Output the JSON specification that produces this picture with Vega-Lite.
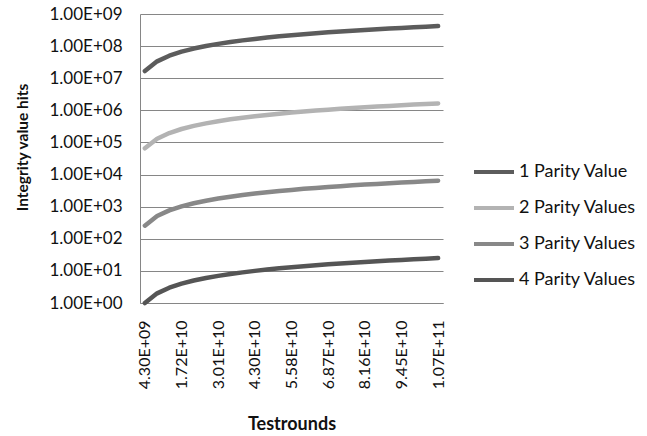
{
  "$schema": "https://vega.github.io/schema/vega-lite/v6.json",
  "width": 303,
  "height": 289,
  "autosize": "none",
  "padding": {"left": 140, "top": 14, "right": 204, "bottom": 133},
  "background": "white",
  "config": {
    "view": {"stroke": null},
    "font": "Lato",
    "axis": {"labelFont": "Lato", "titleFont": "Lato", "labelColor": "#111111", "titleColor": "#111111"}
  },
  "data": {
    "values": [
      {"series": "1 Parity Value", "testrounds": "4.30E+09", "hits": 16777216},
      {"series": "1 Parity Value", "testrounds": "8.59E+09", "hits": 33554432},
      {"series": "1 Parity Value", "testrounds": "1.29E+10", "hits": 50331648},
      {"series": "1 Parity Value", "testrounds": "1.72E+10", "hits": 67108864},
      {"series": "1 Parity Value", "testrounds": "2.15E+10", "hits": 83886080},
      {"series": "1 Parity Value", "testrounds": "2.58E+10", "hits": 100663296},
      {"series": "1 Parity Value", "testrounds": "3.01E+10", "hits": 117440512},
      {"series": "1 Parity Value", "testrounds": "3.44E+10", "hits": 134217728},
      {"series": "1 Parity Value", "testrounds": "3.87E+10", "hits": 150994944},
      {"series": "1 Parity Value", "testrounds": "4.30E+10", "hits": 167772160},
      {"series": "1 Parity Value", "testrounds": "4.73E+10", "hits": 184549376},
      {"series": "1 Parity Value", "testrounds": "5.15E+10", "hits": 201326592},
      {"series": "1 Parity Value", "testrounds": "5.58E+10", "hits": 218103808},
      {"series": "1 Parity Value", "testrounds": "6.01E+10", "hits": 234881024},
      {"series": "1 Parity Value", "testrounds": "6.44E+10", "hits": 251658240},
      {"series": "1 Parity Value", "testrounds": "6.87E+10", "hits": 268435456},
      {"series": "1 Parity Value", "testrounds": "7.30E+10", "hits": 285212672},
      {"series": "1 Parity Value", "testrounds": "7.73E+10", "hits": 301989888},
      {"series": "1 Parity Value", "testrounds": "8.16E+10", "hits": 318767104},
      {"series": "1 Parity Value", "testrounds": "8.59E+10", "hits": 335544320},
      {"series": "1 Parity Value", "testrounds": "9.02E+10", "hits": 352321536},
      {"series": "1 Parity Value", "testrounds": "9.45E+10", "hits": 369098752},
      {"series": "1 Parity Value", "testrounds": "9.88E+10", "hits": 385875968},
      {"series": "1 Parity Value", "testrounds": "1.03E+11", "hits": 402653184},
      {"series": "1 Parity Value", "testrounds": "1.07E+11", "hits": 419430400},
      {"series": "2 Parity Values", "testrounds": "4.30E+09", "hits": 65536},
      {"series": "2 Parity Values", "testrounds": "8.59E+09", "hits": 131072},
      {"series": "2 Parity Values", "testrounds": "1.29E+10", "hits": 196608},
      {"series": "2 Parity Values", "testrounds": "1.72E+10", "hits": 262144},
      {"series": "2 Parity Values", "testrounds": "2.15E+10", "hits": 327680},
      {"series": "2 Parity Values", "testrounds": "2.58E+10", "hits": 393216},
      {"series": "2 Parity Values", "testrounds": "3.01E+10", "hits": 458752},
      {"series": "2 Parity Values", "testrounds": "3.44E+10", "hits": 524288},
      {"series": "2 Parity Values", "testrounds": "3.87E+10", "hits": 589824},
      {"series": "2 Parity Values", "testrounds": "4.30E+10", "hits": 655360},
      {"series": "2 Parity Values", "testrounds": "4.73E+10", "hits": 720896},
      {"series": "2 Parity Values", "testrounds": "5.15E+10", "hits": 786432},
      {"series": "2 Parity Values", "testrounds": "5.58E+10", "hits": 851968},
      {"series": "2 Parity Values", "testrounds": "6.01E+10", "hits": 917504},
      {"series": "2 Parity Values", "testrounds": "6.44E+10", "hits": 983040},
      {"series": "2 Parity Values", "testrounds": "6.87E+10", "hits": 1048576},
      {"series": "2 Parity Values", "testrounds": "7.30E+10", "hits": 1114112},
      {"series": "2 Parity Values", "testrounds": "7.73E+10", "hits": 1179648},
      {"series": "2 Parity Values", "testrounds": "8.16E+10", "hits": 1245184},
      {"series": "2 Parity Values", "testrounds": "8.59E+10", "hits": 1310720},
      {"series": "2 Parity Values", "testrounds": "9.02E+10", "hits": 1376256},
      {"series": "2 Parity Values", "testrounds": "9.45E+10", "hits": 1441792},
      {"series": "2 Parity Values", "testrounds": "9.88E+10", "hits": 1507328},
      {"series": "2 Parity Values", "testrounds": "1.03E+11", "hits": 1572864},
      {"series": "2 Parity Values", "testrounds": "1.07E+11", "hits": 1638400},
      {"series": "3 Parity Values", "testrounds": "4.30E+09", "hits": 256},
      {"series": "3 Parity Values", "testrounds": "8.59E+09", "hits": 512},
      {"series": "3 Parity Values", "testrounds": "1.29E+10", "hits": 768},
      {"series": "3 Parity Values", "testrounds": "1.72E+10", "hits": 1024},
      {"series": "3 Parity Values", "testrounds": "2.15E+10", "hits": 1280},
      {"series": "3 Parity Values", "testrounds": "2.58E+10", "hits": 1536},
      {"series": "3 Parity Values", "testrounds": "3.01E+10", "hits": 1792},
      {"series": "3 Parity Values", "testrounds": "3.44E+10", "hits": 2048},
      {"series": "3 Parity Values", "testrounds": "3.87E+10", "hits": 2304},
      {"series": "3 Parity Values", "testrounds": "4.30E+10", "hits": 2560},
      {"series": "3 Parity Values", "testrounds": "4.73E+10", "hits": 2816},
      {"series": "3 Parity Values", "testrounds": "5.15E+10", "hits": 3072},
      {"series": "3 Parity Values", "testrounds": "5.58E+10", "hits": 3328},
      {"series": "3 Parity Values", "testrounds": "6.01E+10", "hits": 3584},
      {"series": "3 Parity Values", "testrounds": "6.44E+10", "hits": 3840},
      {"series": "3 Parity Values", "testrounds": "6.87E+10", "hits": 4096},
      {"series": "3 Parity Values", "testrounds": "7.30E+10", "hits": 4352},
      {"series": "3 Parity Values", "testrounds": "7.73E+10", "hits": 4608},
      {"series": "3 Parity Values", "testrounds": "8.16E+10", "hits": 4864},
      {"series": "3 Parity Values", "testrounds": "8.59E+10", "hits": 5120},
      {"series": "3 Parity Values", "testrounds": "9.02E+10", "hits": 5376},
      {"series": "3 Parity Values", "testrounds": "9.45E+10", "hits": 5632},
      {"series": "3 Parity Values", "testrounds": "9.88E+10", "hits": 5888},
      {"series": "3 Parity Values", "testrounds": "1.03E+11", "hits": 6144},
      {"series": "3 Parity Values", "testrounds": "1.07E+11", "hits": 6400},
      {"series": "4 Parity Values", "testrounds": "4.30E+09", "hits": 1},
      {"series": "4 Parity Values", "testrounds": "8.59E+09", "hits": 2},
      {"series": "4 Parity Values", "testrounds": "1.29E+10", "hits": 3},
      {"series": "4 Parity Values", "testrounds": "1.72E+10", "hits": 4},
      {"series": "4 Parity Values", "testrounds": "2.15E+10", "hits": 5},
      {"series": "4 Parity Values", "testrounds": "2.58E+10", "hits": 6},
      {"series": "4 Parity Values", "testrounds": "3.01E+10", "hits": 7},
      {"series": "4 Parity Values", "testrounds": "3.44E+10", "hits": 8},
      {"series": "4 Parity Values", "testrounds": "3.87E+10", "hits": 9},
      {"series": "4 Parity Values", "testrounds": "4.30E+10", "hits": 10},
      {"series": "4 Parity Values", "testrounds": "4.73E+10", "hits": 11},
      {"series": "4 Parity Values", "testrounds": "5.15E+10", "hits": 12},
      {"series": "4 Parity Values", "testrounds": "5.58E+10", "hits": 13},
      {"series": "4 Parity Values", "testrounds": "6.01E+10", "hits": 14},
      {"series": "4 Parity Values", "testrounds": "6.44E+10", "hits": 15},
      {"series": "4 Parity Values", "testrounds": "6.87E+10", "hits": 16},
      {"series": "4 Parity Values", "testrounds": "7.30E+10", "hits": 17},
      {"series": "4 Parity Values", "testrounds": "7.73E+10", "hits": 18},
      {"series": "4 Parity Values", "testrounds": "8.16E+10", "hits": 19},
      {"series": "4 Parity Values", "testrounds": "8.59E+10", "hits": 20},
      {"series": "4 Parity Values", "testrounds": "9.02E+10", "hits": 21},
      {"series": "4 Parity Values", "testrounds": "9.45E+10", "hits": 22},
      {"series": "4 Parity Values", "testrounds": "9.88E+10", "hits": 23},
      {"series": "4 Parity Values", "testrounds": "1.03E+11", "hits": 24},
      {"series": "4 Parity Values", "testrounds": "1.07E+11", "hits": 25}
    ]
  },
  "mark": {"type": "line", "strokeWidth": 4.5, "strokeCap": "round", "strokeJoin": "round", "clip": false},
  "encoding": {
    "x": {
      "field": "testrounds",
      "type": "ordinal",
      "sort": null,
      "scale": {"type": "point", "padding": 0.4},
      "axis": {
        "title": "Testrounds",
        "titleFontSize": 18,
        "titleFontWeight": "bold",
        "titleBaseline": "middle",
        "titleY": 121,
        "values": ["4.30E+09", "1.72E+10", "3.01E+10", "4.30E+10", "5.58E+10", "6.87E+10", "8.16E+10", "9.45E+10", "1.07E+11"],
        "labelAngle": 270,
        "labelFontSize": 16,
        "labelPadding": 17,
        "ticks": false,
        "grid": false,
        "domainColor": "#868686",
        "domainWidth": 1
      }
    },
    "y": {
      "field": "hits",
      "type": "quantitative",
      "scale": {"type": "log", "domain": [1, 1000000000], "nice": false},
      "axis": {
        "title": "Integrity value hits",
        "titleFontSize": 15.5,
        "titleFontWeight": "bold",
        "titleX": -118,
        "titleY": 133,
        "titleAngle": 270,
        "titleBaseline": "middle",
        "values": [1, 10, 100, 1000, 10000, 100000, 1000000, 10000000, 100000000, 1000000000],
        "labelExpr": "'1.00E+0' + round(log(datum.value) / LN10)",
        "labelFontSize": 17,
        "labelPadding": 18,
        "ticks": false,
        "grid": true,
        "gridColor": "#868686",
        "gridWidth": 1,
        "domainColor": "#868686",
        "domainWidth": 1
      }
    },
    "color": {
      "field": "series",
      "type": "nominal",
      "scale": {
        "domain": ["1 Parity Value", "2 Parity Values", "3 Parity Values", "4 Parity Values"],
        "range": ["#5c5c5c", "#b3b3b3", "#888888", "#555555"]
      },
      "legend": {
        "title": null,
        "orient": "none",
        "legendX": 332,
        "legendY": 136,
        "symbolType": "stroke",
        "symbolSize": 1600,
        "symbolStrokeWidth": 4,
        "labelFontSize": 18,
        "labelFont": "Lato",
        "labelColor": "#111111",
        "labelOffset": 3,
        "rowPadding": 5
      }
    }
  }
}
